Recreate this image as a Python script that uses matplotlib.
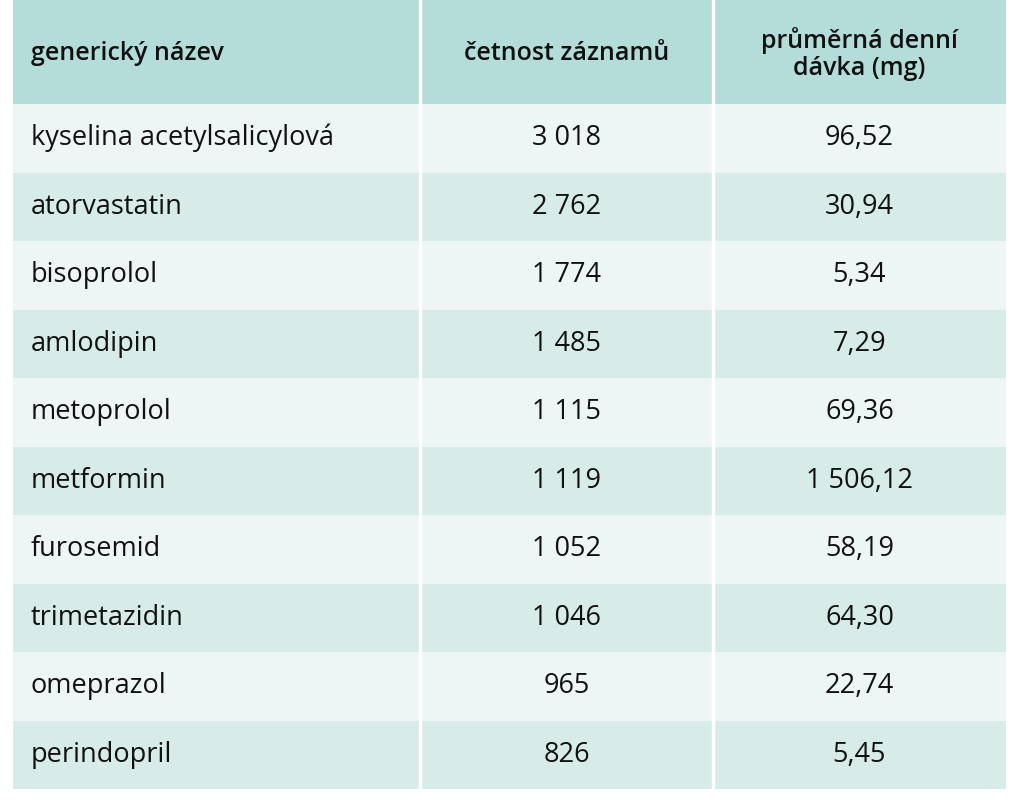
import matplotlib
matplotlib.use("Agg")
import matplotlib.pyplot as plt
from matplotlib.patches import Rectangle

headers = ["generický název", "četnost záznamů", "průměrná denní\ndávka (mg)"]
names = ["kyselina acetylsalicylová", "atorvastatin", "bisoprolol", "amlodipin", "metoprolol",
         "metformin", "furosemid", "trimetazidin", "omeprazol", "perindopril"]
counts = ["3 018", "2 762", "1 774", "1 485", "1 115", "1 119", "1 052", "1 046", "965", "826"]
doses = ["96,52", "30,94", "5,34", "7,29", "69,36", "1 506,12", "58,19", "64,30", "22,74", "5,45"]

W, H = 1016, 800
fig = plt.figure(figsize=(W/100, H/100), dpi=100)
ax = fig.add_axes([0, 0, 1, 1])
ax.set_xlim(0, W); ax.set_ylim(H, 0); ax.axis("off")

cols = [13, 420, 713, 1006]
top, hh, rh = 0, 104, 68.5
hdr_c, c1, c2 = "#b4dcd8", "#eef6f5", "#d7ebe9"
font = dict(family="Open Sans", fontsize=19.5, color="#111111")
hfont = dict(family="Open Sans", fontsize=18, color="#111111", fontweight="semibold")

for j in range(3):
    ax.add_patch(Rectangle((cols[j], top), cols[j+1]-cols[j], hh, fc=hdr_c, ec="none"))
    x = cols[j] + 18 if j == 0 else (cols[j]+cols[j+1])/2
    ax.text(x, top+hh/2+2, headers[j], ha="left" if j == 0 else "center", va="center",
            linespacing=1.15, **hfont)
for i, (n, c, d) in enumerate(zip(names, counts, doses)):
    y = top + hh + i*rh
    for j, t in enumerate([n, c, d]):
        ax.add_patch(Rectangle((cols[j], y), cols[j+1]-cols[j], rh, fc=c1 if i % 2 == 0 else c2, ec="none"))
        x = cols[j] + 18 if j == 0 else (cols[j]+cols[j+1])/2
        ax.text(x, y+rh/2, t, ha="left" if j == 0 else "center", va="center", **font)
for x in cols[1:3]:
    ax.plot([x, x], [top, top+hh+10*rh], color="white", lw=2.5)

fig.savefig("out.png", dpi=100, facecolor="white")
